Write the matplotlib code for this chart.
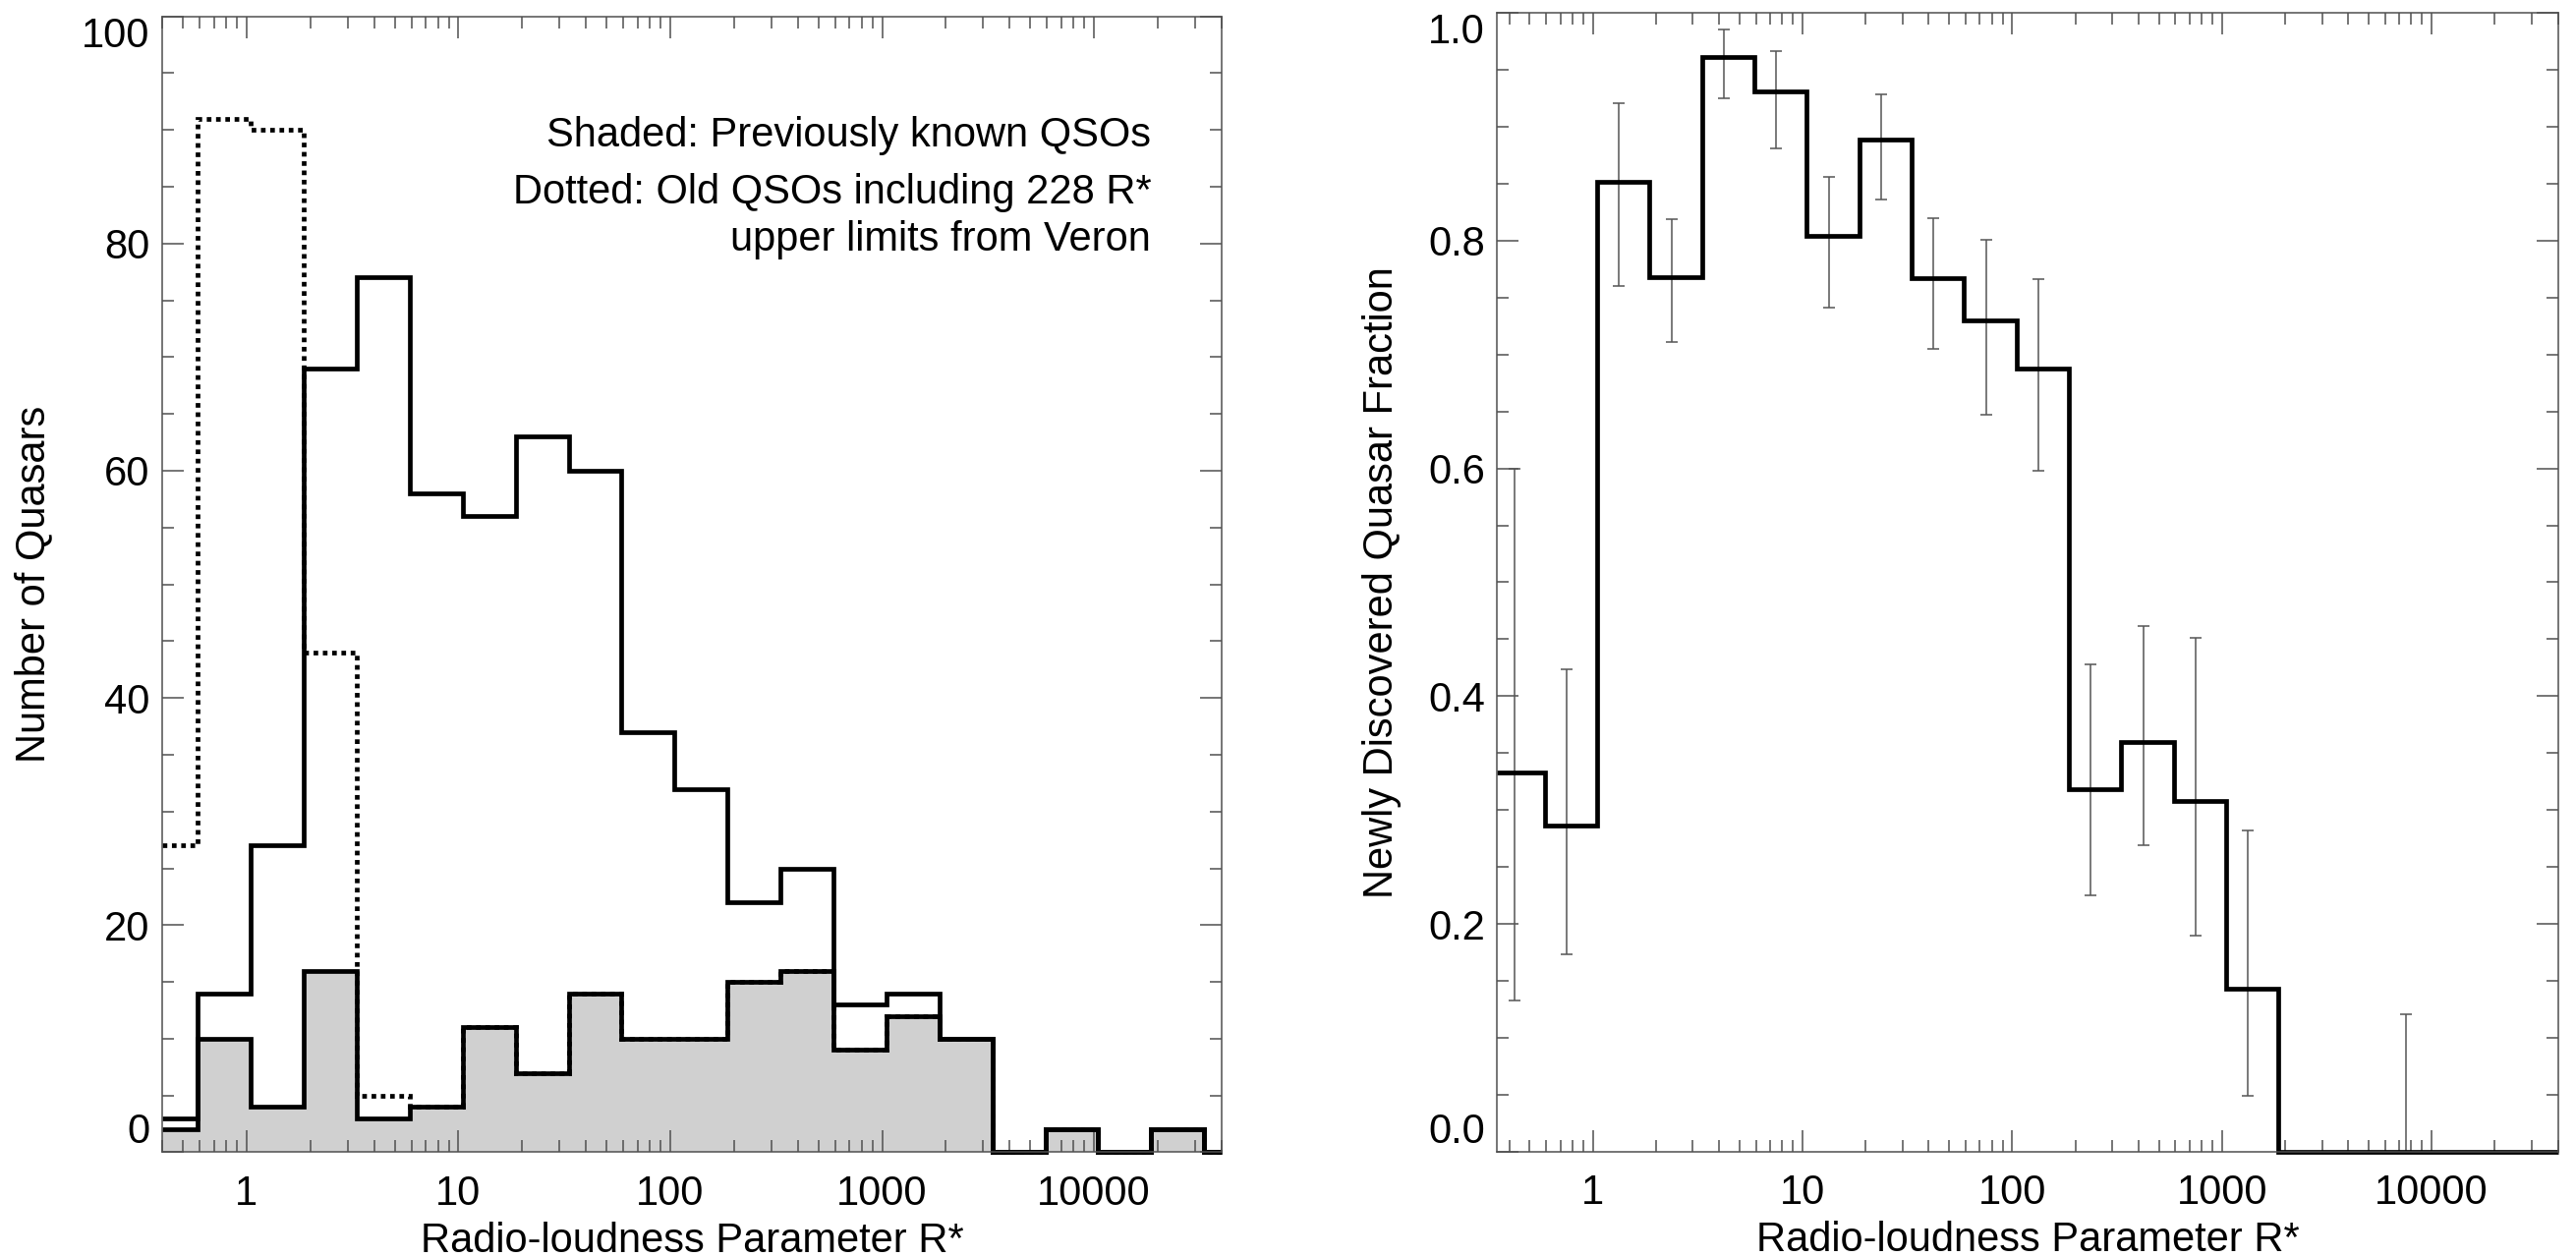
import numpy as np
import matplotlib.pyplot as plt
from matplotlib.ticker import FixedLocator, MultipleLocator, LogLocator, NullFormatter, FixedFormatter
from matplotlib.transforms import offset_copy

plt.rcParams['font.family'] = ['Liberation Sans', 'DejaVu Sans']

# log10(R*) bin centres (0.25 dex bins)
log_centers = [-0.375, -0.125, 0.125, 0.375, 0.625, 0.875, 1.125, 1.375, 1.625, 1.875,
               2.125, 2.375, 2.625, 2.875, 3.125, 3.375, 3.625, 3.875, 4.125, 4.375, 4.625]

# left panel: counts per bin
n_total = [3, 14, 27, 69, 77, 58, 56, 63, 60, 37, 32, 22, 25, 13, 14, 10, 0, 2, 0, 2, 0]
n_known = [2, 10, 4, 16, 3, 4, 11, 7, 14, 10, 10, 15, 16, 9, 12, 10, 0, 2, 0, 2, 0]
n_old_ul = [27, 91, 90, 44, 5, 4, 11, 7, 14, 10, 10, 15, 16, 9, 12, 10, 0, 2, 0, 2, 0]

# right panel: newly discovered fraction
new_frac = [0.333, 0.286, 0.852, 0.768, 0.961, 0.931, 0.804, 0.889, 0.767, 0.730,
            0.688, 0.318, 0.360, 0.308, 0.143, 0.0, 0.0, 0.0, 0.0, 0.0, 0.0]
err_bins = [0, 1, 2, 3, 4, 5, 6, 7, 8, 9, 10, 11, 12, 13, 14, 17]
err_lo = [0.133, 0.173, 0.760, 0.711, 0.925, 0.881, 0.741, 0.836, 0.705, 0.647,
          0.598, 0.225, 0.269, 0.190, 0.049, 0.0]
err_hi = [0.600, 0.424, 0.921, 0.819, 0.986, 0.967, 0.856, 0.929, 0.820, 0.801,
          0.766, 0.428, 0.462, 0.451, 0.282, 0.121]

x_ticks = [1, 10, 100, 1000, 10000]
x_tick_labels = ['1', '10', '100', '1000', '10000']
y1_ticks = [0, 20, 40, 60, 80, 100]
y1_tick_labels = ['0', '20', '40', '60', '80', '100']
y2_ticks = [0.0, 0.2, 0.4, 0.6, 0.8, 1.0]
y2_tick_labels = ['0.0', '0.2', '0.4', '0.6', '0.8', '1.0']

FS = 30
axis_col = '#505050'
line_w = 3.4
ypad = 9

c = np.array(log_centers)
log_edges = np.append(c - 0.125, c[-1] + 0.125) + 0.02  # steps sit slightly right of the bar positions


def style_axes(ax, xlim, yticks, ylabels, yminor):
    ax.set_xscale('log')
    ax.set_xlim(*xlim)
    ax.set_ylim(yticks[0], yticks[-1])
    ax.xaxis.set_major_locator(FixedLocator(x_ticks))
    ax.xaxis.set_major_formatter(FixedFormatter(x_tick_labels))
    ax.xaxis.set_minor_locator(LogLocator(base=10, subs=np.arange(2, 10)))
    ax.xaxis.set_minor_formatter(NullFormatter())
    ax.yaxis.set_major_locator(FixedLocator(yticks))
    # the end labels are drawn separately so they stay inside the axis height
    ax.yaxis.set_major_formatter(FixedFormatter([''] + ylabels[1:-1] + ['']))
    ax.yaxis.set_minor_locator(MultipleLocator(yminor))
    ax.tick_params(which='both', direction='in', top=True, right=True,
                   color=axis_col, width=1.1, labelsize=FS)
    ax.tick_params(which='major', length=15.8)
    ax.tick_params(which='minor', length=8.4)
    ax.tick_params(axis='x', pad=16)
    ax.tick_params(axis='y', pad=ypad)
    for s in ax.spines.values():
        s.set_color(axis_col)
        s.set_linewidth(1.1)
        s.set_zorder(5)
    ax.set_xlabel('Radio-loudness Parameter R*', fontsize=FS, labelpad=6)
    tr = offset_copy(ax.get_yaxis_transform(), fig=ax.figure, x=-ypad, y=0, units='points')
    ax.text(0, yticks[0], ylabels[0], transform=tr, ha='right', va='bottom', fontsize=FS)
    ax.text(0, yticks[-1], ylabels[-1], transform=tr, ha='right', va='top', fontsize=FS)


fig = plt.figure(figsize=(26.21, 12.79), dpi=100)

# ---- left: number of quasars
ax1 = fig.add_axes([0.0630, 0.0833, 0.4112, 0.9037])
xl1 = (0.4, 40000)
edges1 = np.clip(10 ** log_edges, *xl1)
ax1.stairs(n_known, edges1, fill=True, color='#d0d0d0', linewidth=0, zorder=1)
ax1.stairs(n_old_ul, edges1, baseline=None, color='black', linewidth=line_w,
           linestyle=(0, (1, 1)), zorder=2, clip_on=False)
ax1.stairs(n_known, edges1, baseline=None, color='black', linewidth=line_w, zorder=3, clip_on=False)
ax1.stairs(n_total, edges1, baseline=None, color='black', linewidth=line_w, zorder=3, clip_on=False)
style_axes(ax1, xl1, y1_ticks, y1_tick_labels, 5)
ax1.text(-0.1217, 0.5, 'Number of Quasars', transform=ax1.transAxes, rotation=90,
         ha='center', va='center', fontsize=FS)
ax1.text(0.9336, 0.8855, 'Shaded: Previously known QSOs', transform=ax1.transAxes,
         ha='right', va='baseline', fontsize=FS)
ax1.text(0.9336, 0.8353, 'Dotted: Old QSOs including 228 R*', transform=ax1.transAxes,
         ha='right', va='baseline', fontsize=FS)
ax1.text(0.9336, 0.7938, 'upper limits from Veron', transform=ax1.transAxes,
         ha='right', va='baseline', fontsize=FS)

# ---- right: newly discovered fraction
ax2 = fig.add_axes([0.5812, 0.0839, 0.4118, 0.9057])
xl2 = (0.35, 40000)
edges2 = np.clip(10 ** log_edges, *xl2)
ax2.stairs(new_frac, edges2, baseline=None, color='black', linewidth=line_w, zorder=3, clip_on=False)
xe = 10 ** c[err_bins]
ye = np.array(new_frac)[err_bins]
ax2.errorbar(xe, ye, yerr=[ye - np.array(err_lo), np.array(err_hi) - ye], fmt='none',
             ecolor='#555555', elinewidth=1.1, capsize=4, capthick=1.1, zorder=2)
style_axes(ax2, xl2, y2_ticks, y2_tick_labels, 0.05)
ax2.text(-0.109, 0.5, 'Newly Discovered Quasar Fraction', transform=ax2.transAxes, rotation=90,
         ha='center', va='center', fontsize=FS)

fig.savefig('out.png', dpi=100)
